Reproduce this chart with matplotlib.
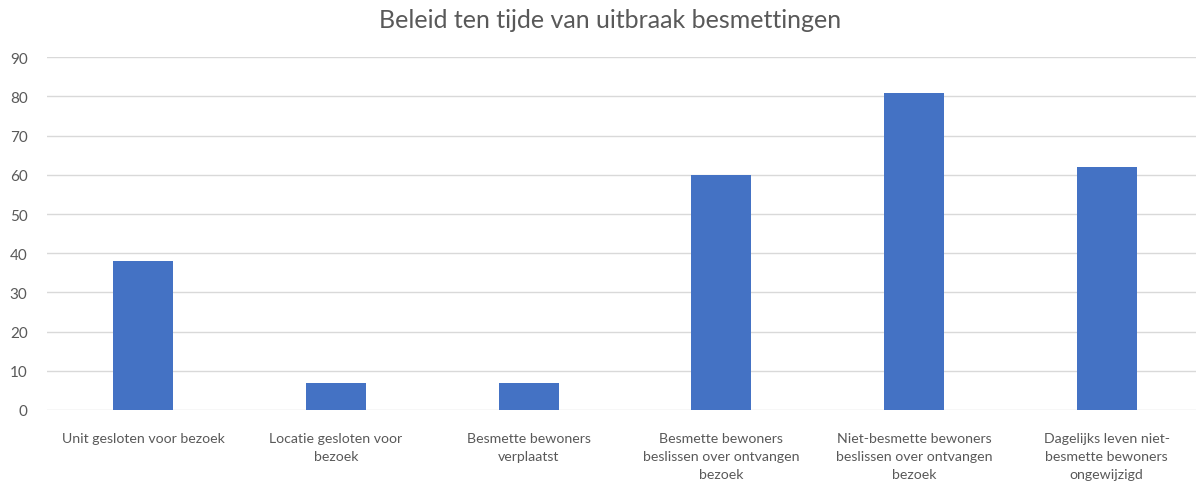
import matplotlib.pyplot as plt

categories = [
    "Unit gesloten voor bezoek",
    "Locatie gesloten voor\nbezoek",
    "Besmette bewoners\nverplaatst",
    "Besmette bewoners\nbeslissen over ontvangen\nbezoek",
    "Niet-besmette bewoners\nbeslissen over ontvangen\nbezoek",
    "Dagelijks leven niet-\nbesmette bewoners\nongewijzigd",
]
values = [38, 7, 7, 60, 81, 62]

plt.rcParams['font.family'] = ['Lato', 'DejaVu Sans']

fig = plt.figure(figsize=(11.96, 4.85), dpi=100)
ax = fig.add_axes([47 / 1196, 1 - 411 / 485, (1203 - 47) / 1196, (411 - 58.3) / 485])

x = range(len(categories))
ax.bar(x, values, width=0.31, color='#4472C4', zorder=3)

ax.set_xlim(-0.5, len(categories) - 0.5)
ax.set_ylim(0, 90)
ax.set_yticks(range(0, 91, 10))
ax.set_xticks(list(x))
ax.set_xticklabels(categories, fontsize=10.2, color='#595959', linespacing=1.6)
ax.tick_params(axis='y', labelsize=11, labelcolor='#595959', length=0, pad=14)
ax.tick_params(axis='x', length=0, pad=16)
ax.grid(axis='y', color='#D9D9D9', linewidth=1, zorder=0)
for s in ax.spines.values():
    s.set_visible(False)

fig.text(610 / 1196, 1 - 20 / 485, "Beleid ten tijde van uitbraak besmettingen",
         ha='center', va='center', fontsize=18, color='#595959')

fig.savefig('out.png', dpi=100)
